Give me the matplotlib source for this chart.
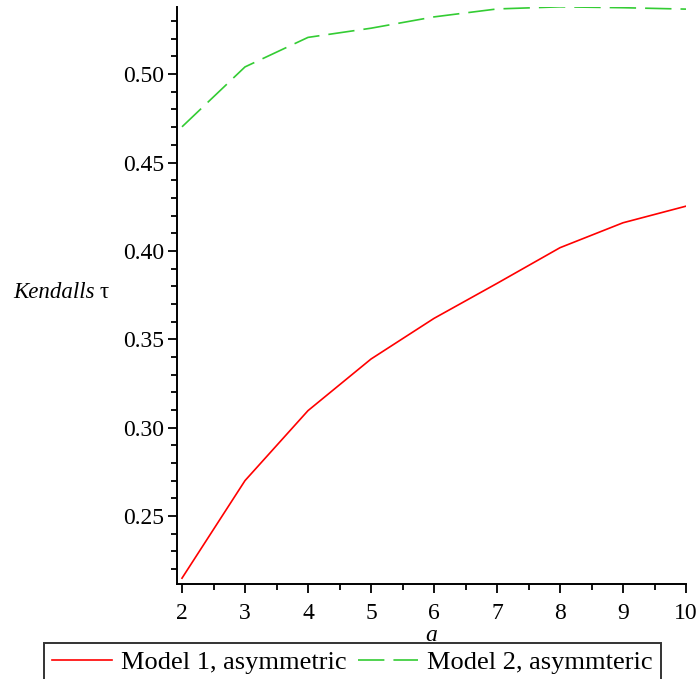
import matplotlib
matplotlib.use("Agg")
import matplotlib.pyplot as plt
from matplotlib.ticker import MultipleLocator, FormatStrFormatter

# ==================================
# Data
# ==================================
a_values = [2, 3, 4, 5, 6, 7, 8, 9, 10]
model1_tau = [0.2148, 0.2700, 0.3096, 0.3388, 0.3618, 0.3816, 0.4018, 0.4159, 0.4253]
model2_tau = [0.4702, 0.5041, 0.5208, 0.5260, 0.5324, 0.5369, 0.5381, 0.5376, 0.5368]

labels = ["Model 1, asymmetric", "Model 2, asymmteric"]

# ==================================
# Style
# ==================================
plt.rcParams["font.family"] = ["Liberation Serif", "DejaVu Serif"]
plt.rcParams["lines.scale_dashes"] = False

W, H = 697, 679
fig = plt.figure(figsize=(W / 100, H / 100), dpi=100)

ax = fig.add_axes([
    177 / W,
    1 - 584 / H,
    (686 - 177) / W,
    (584 - 7) / H
])

# ==================================
# Curves
# ==================================
red_line, = ax.plot(a_values, model1_tau, color="#ff0000", linewidth=1.2)
green_line, = ax.plot(
    a_values, model2_tau,
    color="#33cc33",
    linewidth=1.2,
    dashes=(19, 6.5)
)

ax.set_xlim(2 - 5 / 63, 10)
ax.set_ylim(0.2115, 0.5380)

# ==================================
# Axes / ticks
# ==================================
for side in ["top", "right"]:
    ax.spines[side].set_visible(False)
for side in ["left", "bottom"]:
    ax.spines[side].set_linewidth(1.4)

ax.xaxis.set_major_locator(MultipleLocator(1))
ax.xaxis.set_minor_locator(MultipleLocator(0.5))
ax.yaxis.set_major_locator(MultipleLocator(0.05))
ax.yaxis.set_minor_locator(MultipleLocator(0.01))
ax.yaxis.set_major_formatter(FormatStrFormatter("%.2f"))

ax.tick_params(axis="both", which="major", length=6.5, width=1.3,
               labelsize=17, direction="out")
ax.tick_params(axis="both", which="minor", length=4, width=1.3,
               direction="out")
ax.tick_params(axis="x", which="major", pad=7)
ax.tick_params(axis="y", which="major", pad=3)

# ==================================
# Labels
# ==================================
fig.text(13 / W, 1 - 293 / H, "Kendalls", fontsize=16.5,
         style="italic", ha="left", va="center")
fig.text(100 / W, 1 - 293 / H, "τ", fontsize=16.5,
         ha="left", va="center")
fig.text(431 / W, 1 - 641 / H, "a", fontsize=17,
         style="italic", ha="center", va="baseline")

# ==================================
# Legend
# ==================================
leg = fig.legend(
    [red_line, green_line],
    labels,
    loc="upper left",
    bbox_to_anchor=(44 / W, 1 - 643 / H),
    ncol=2,
    fontsize=19,
    frameon=True,
    fancybox=False,
    edgecolor="black",
    borderpad=0.3,
    borderaxespad=0,
    handlelength=2.27,
    handletextpad=0.34,
    columnspacing=0.45
)
leg.get_frame().set_linewidth(1.4)

fig.savefig("out.png", dpi=100)
